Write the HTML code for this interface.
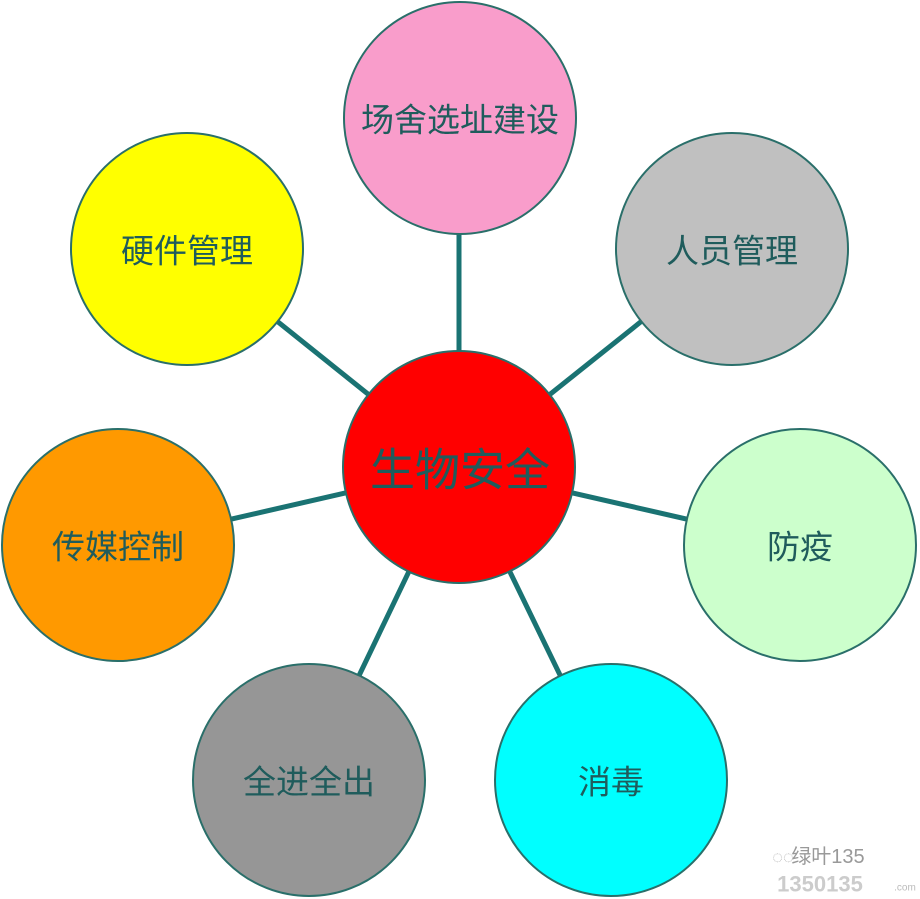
<!DOCTYPE html>
<html><head><meta charset="utf-8"><style>
html,body{margin:0;padding:0;background:#fff;width:920px;height:899px;overflow:hidden}
svg{display:block}
text{font-family:"Liberation Sans","Noto Sans CJK SC",sans-serif;fill:#1f5c5c;text-anchor:middle;dominant-baseline:central}
</style></head><body>
<svg width="920" height="899" viewBox="0 0 920 899">
<g stroke="#1a7373" stroke-width="5">
<line x1="459" y1="467" x2="459" y2="118"/>
<line x1="459" y1="467" x2="187" y2="249"/>
<line x1="459" y1="467" x2="732" y2="249"/>
<line x1="459" y1="467" x2="118" y2="545"/>
<line x1="459" y1="467" x2="800" y2="545"/>
<line x1="459" y1="467" x2="309" y2="780"/>
<line x1="459" y1="467" x2="611" y2="780"/>
</g>
<g stroke="#2a6f6a" stroke-width="2">
<circle cx="460" cy="118" r="116" fill="#f99dcb"/>
<circle cx="187" cy="249" r="116" fill="#ffff00"/>
<circle cx="732" cy="249" r="116" fill="#c0c0c0"/>
<circle cx="118" cy="545" r="116" fill="#ff9900"/>
<circle cx="800" cy="545" r="116" fill="#ccffcc"/>
<circle cx="309" cy="780" r="116" fill="#969696"/>
<circle cx="611" cy="780" r="116" fill="#00ffff"/>
<circle cx="459" cy="467" r="116" fill="#ff0000"/>
</g>
<text x="460" y="120" font-size="33">场舍选址建设</text>
<text x="187" y="251" font-size="33">硬件管理</text>
<text x="732" y="251" font-size="33">人员管理</text>
<text x="118" y="547" font-size="33">传媒控制</text>
<text x="800" y="547" font-size="33">防疫</text>
<text x="309" y="782" font-size="33">全进全出</text>
<text x="611" y="782" font-size="33">消毒</text>
<text x="460" y="470" font-size="45">生物安全</text>
<text x="828" y="857" font-size="20" style="fill:#999">绿叶135</text>
<text x="820" y="884" font-size="22" font-weight="bold" style="fill:#ccc">1350135</text>
<text x="905" y="888" font-size="10" style="fill:#bbb">.com</text>
<text x="783" y="857" font-size="18" style="fill:#bbb">◌◌</text>
</svg>
</body></html>
